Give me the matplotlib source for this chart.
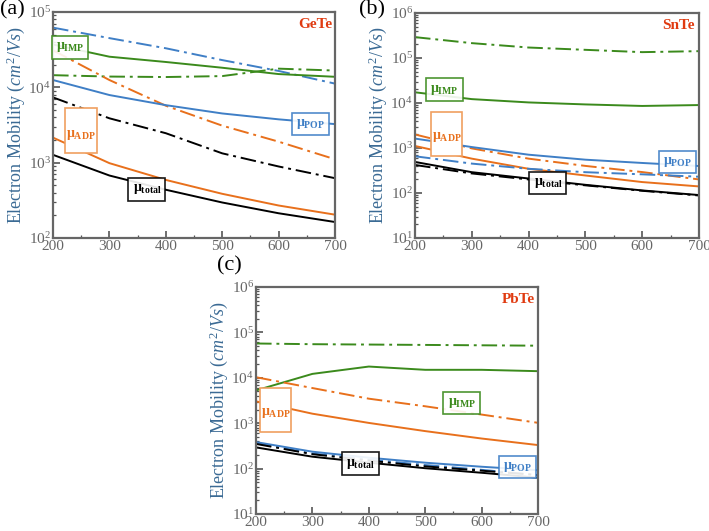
import numpy as np
import matplotlib
matplotlib.use('Agg')
import matplotlib.pyplot as plt
from matplotlib.patches import Rectangle
from matplotlib.ticker import LogLocator, MultipleLocator, NullFormatter

plt.rcParams['font.family'] = 'Liberation Serif'
plt.rcParams['mathtext.fontset'] = 'custom'
plt.rcParams['mathtext.rm'] = 'Liberation Serif'
plt.rcParams['mathtext.it'] = 'Liberation Serif:italic'
plt.rcParams['mathtext.bf'] = 'Liberation Serif:bold'

# temperature (K)
T = [200, 300, 400, 500, 600, 700]

# (a) GeTe
gete_total = [1270, 675, 437, 296, 213, 163]
gete_total_dd = [7350, 3880, 2460, 1330, 890, 622]
gete_adp = [2150, 985, 590, 386, 270, 204]
gete_adp_dd = [31000, 12500, 5700, 3100, 1900, 1110]
gete_pop = [12500, 7900, 5800, 4500, 3760, 3250]
gete_pop_dd = [62000, 45000, 33000, 23000, 16500, 11200]
gete_imp = [37000, 25500, 21700, 18200, 15000, 13800]
gete_imp_dd = [14500, 13900, 13700, 14100, 17700, 16700]

# (b) SnTe
snte_total = [490, 290, 210, 152, 114, 90]
snte_total_dd = [420, 272, 200, 148, 112, 88]
snte_adp = [1110, 580, 345, 245, 175, 140]
snte_adp_dd = [2000, 980, 580, 400, 292, 200]
snte_pop = [1620, 1050, 710, 550, 465, 398]
snte_pop_dd = [655, 450, 345, 290, 260, 230]
snte_imp = [17300, 12200, 10300, 9300, 8600, 9000]
snte_imp_dd = [291000, 214000, 171000, 152000, 135000, 142000]

# (c) PbTe
pbte_total = [293, 183, 135, 102, 81, 63]
pbte_total_dd = [350, 208, 150, 112, 90, 72]
pbte_adp = [3030, 1620, 1015, 670, 460, 330]
pbte_adp_dd = [10300, 5950, 3470, 2360, 1550, 1020]
pbte_pop = [384, 236, 174, 135, 110, 92]
pbte_pop_dd = [360, 215, 158, 120, 94, 72]
pbte_imp = [5280, 12200, 17700, 15000, 15000, 14000]
pbte_imp_dd = [57000, 55000, 54000, 53000, 52000, 51000]

c_blue = '#3f7fc6'
c_green = '#3b8a1c'
c_orange = '#e8701c'
c_black = '#000000'
c_lab = '#3a6a94'
dd = (8, 2.5, 1.5, 2.5)

fig = plt.figure(figsize=(7.09, 5.31), dpi=100)
ax_a = fig.add_axes([0.0748, 0.5518, 0.3977, 0.4256])
ax_b = fig.add_axes([0.5853, 0.5518, 0.4006, 0.4237])
ax_c = fig.add_axes([0.3611, 0.0320, 0.3977, 0.4275])


def draw(ax, series, ylim):
    for vals, col, dashed in series:
        if dashed:
            ax.plot(T, vals, color=col, lw=1.4, dashes=dd)
        else:
            ax.plot(T, vals, color=col, lw=1.4)
    ax.set_yscale('log')
    ax.set_xlim(200, 700)
    ax.set_ylim(*ylim)
    ax.xaxis.set_major_locator(MultipleLocator(100))
    ax.xaxis.set_minor_locator(MultipleLocator(50))
    ax.yaxis.set_major_locator(LogLocator(base=10, numticks=10))
    ax.yaxis.set_minor_locator(LogLocator(base=10, subs=np.arange(2, 10), numticks=20))
    ax.yaxis.set_minor_formatter(NullFormatter())
    ax.tick_params(which='both', direction='in', colors='#555555', labelcolor='#666666',
                   labelsize=11, pad=1.5)
    ax.tick_params(which='major', length=5, width=1.2)
    ax.tick_params(which='minor', length=2.5, width=0.9)
    for s in ax.spines.values():
        s.set_color('#666666')
        s.set_linewidth(1.6)
    ax.set_ylabel(r'Electron Mobility $\mathit{(cm^2/Vs)}$', color=c_lab, fontsize=13, labelpad=1)


def tag(ax, x, y, txt, col):
    ax.text(x, y, txt, transform=ax.transAxes, ha='center', va='center', color=col,
            fontsize=10, zorder=5,
            bbox=dict(boxstyle='square,pad=0.3', fc='white', ec=col, lw=1.2, alpha=0.9))


def adp_box(ax, x0, x1, y0, y1, ty):
    ax.add_patch(Rectangle((x0, y0), x1 - x0, y1 - y0, transform=ax.transAxes,
                           fc='white', ec='#f0a060', lw=1.2, zorder=4))
    ax.text((x0 + x1) / 2, ty, r'$\mathbf{\mu}_{\mathbf{ADP}}$', transform=ax.transAxes,
            ha='center', va='center', color=c_orange, fontsize=10, zorder=5)


mu_imp = r'$\mathbf{\mu}_{\mathbf{IMP}}$'
mu_pop = r'$\mathbf{\mu}_{\mathbf{POP}}$'
mu_tot = r'$\mathbf{\mu}_{\mathbf{total}}$'

# (a)
draw(ax_a, [(gete_pop_dd, c_blue, True), (gete_imp, c_green, False), (gete_imp_dd, c_green, True),
            (gete_adp_dd, c_orange, True), (gete_pop, c_blue, False), (gete_total_dd, c_black, True),
            (gete_adp, c_orange, False), (gete_total, c_black, False)], (1e2, 1e5))
tag(ax_a, 0.06, 0.843, mu_imp, c_green)
tag(ax_a, 0.913, 0.504, mu_pop, c_blue)
tag(ax_a, 0.333, 0.215, mu_tot, c_black)
adp_box(ax_a, 0.043, 0.156, 0.376, 0.575, 0.456)
ax_a.text(0.99, 0.945, 'GeTe', transform=ax_a.transAxes, ha='right', va='center',
          color='#e03a10', fontsize=11, fontweight='bold')

# (b)
draw(ax_b, [(snte_imp_dd, c_green, True), (snte_imp, c_green, False), (snte_adp_dd, c_orange, True),
            (snte_pop, c_blue, False), (snte_adp, c_orange, False), (snte_pop_dd, c_blue, True),
            (snte_total_dd, c_black, True), (snte_total, c_black, False)], (1e1, 1e6))
tag(ax_b, 0.104, 0.66, mu_imp, c_green)
tag(ax_b, 0.924, 0.338, mu_pop, c_blue)
tag(ax_b, 0.468, 0.244, mu_tot, c_black)
adp_box(ax_b, 0.056, 0.165, 0.364, 0.56, 0.449)
ax_b.text(0.985, 0.945, 'SnTe', transform=ax_b.transAxes, ha='right', va='center',
          color='#e03a10', fontsize=11, fontweight='bold')

# (c)
draw(ax_c, [(pbte_imp_dd, c_green, True), (pbte_imp, c_green, False), (pbte_adp_dd, c_orange, True),
            (pbte_adp, c_orange, False), (pbte_pop, c_blue, False), (pbte_pop_dd, c_blue, True),
            (pbte_total_dd, c_black, True), (pbte_total, c_black, False)], (1e1, 1e6))
tag(ax_c, 0.73, 0.489, mu_imp, c_green)
tag(ax_c, 0.927, 0.208, mu_pop, c_blue)
tag(ax_c, 0.369, 0.222, mu_tot, c_black)
adp_box(ax_c, 0.014, 0.124, 0.36, 0.557, 0.447)
ax_c.text(0.99, 0.943, 'PbTe', transform=ax_c.transAxes, ha='right', va='center',
          color='#e03a10', fontsize=11, fontweight='bold')

fig.text(0.017, 0.981, '(a)', fontsize=16, ha='center', va='center')
fig.text(0.524, 0.981, '(b)', fontsize=16, ha='center', va='center')
fig.text(0.323, 0.499, '(c)', fontsize=16, ha='center', va='center')

fig.savefig('out.png', dpi=100)
